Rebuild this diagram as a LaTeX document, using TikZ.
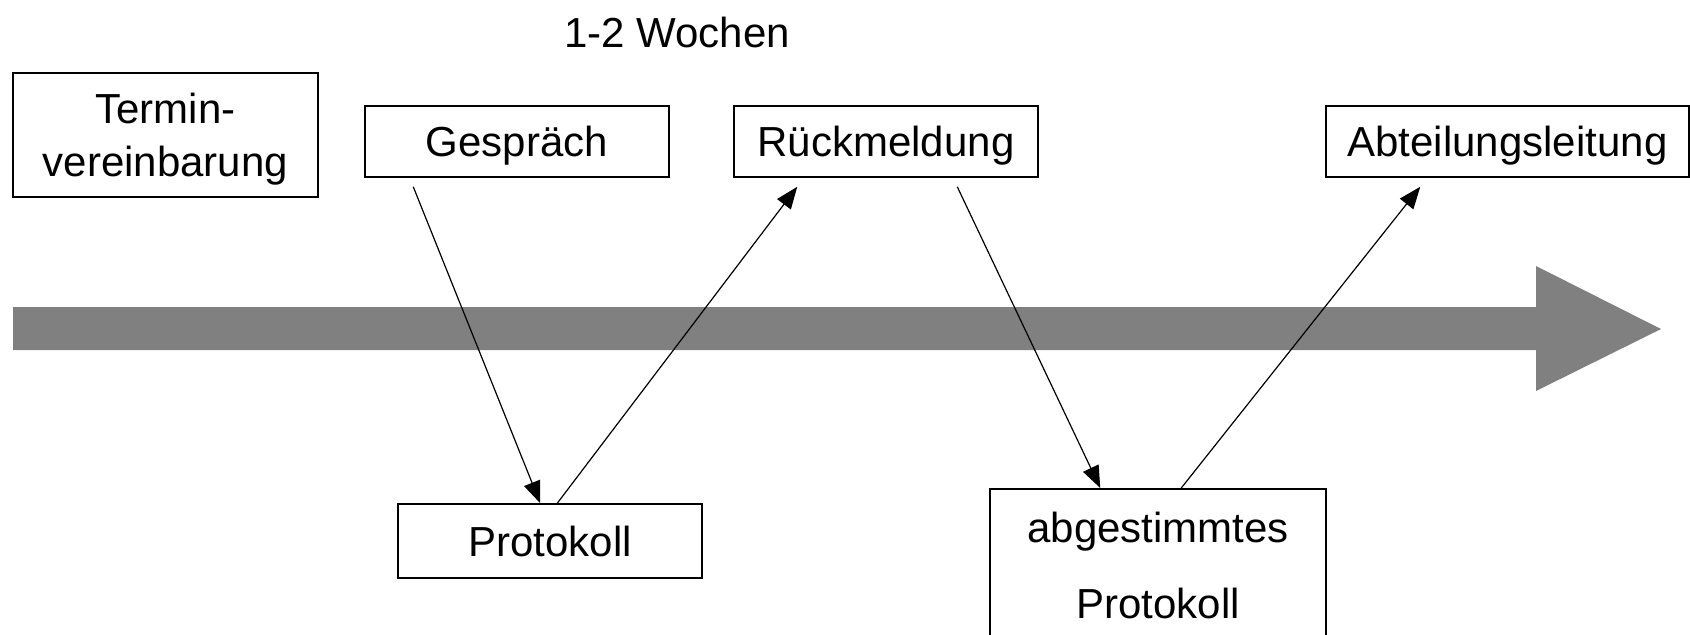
\documentclass[tikz,border=0pt]{standalone}
\usepackage{fontspec}
\setmainfont{Liberation Sans}
\usetikzlibrary{arrows.meta, calc}

\begin{document}
\begin{tikzpicture}[x=0.5pt, y=-0.5pt,
		txt/.style={inner sep=0pt, align=center, font=\fontsize{21}{25.5}\selectfont},
		box/.style={txt, draw=black, line width=0.75pt},
		link/.style={black, line width=0.6pt, -{Triangle[length=11pt,width=8.5pt]}}]
	\useasboundingbox (0,0) rectangle (1690,634);
	% timeline
	\fill[gray] (13,307) -- (1536,307) -- (1536,266) -- (1661,329)
		-- (1536,391) -- (1536,350) -- (13,350) -- cycle;
	% labels and boxes
	\node[txt] (dur) at (677,32) {1-2 Wochen};
	\node[box, text depth=0pt, minimum width=152.5pt, minimum height=62pt] (term) at (165.5,135) {Termin-\\[1pt]vereinbarung};
	\node[box, text depth=0pt, minimum width=152pt, minimum height=35.5pt] (ges) at (517,141.5) {Gespräch};
	\node[box, text depth=0pt, minimum width=152pt, minimum height=35.5pt] (rueck) at (886,141.5) {Rückmeldung};
	\node[box, text depth=0pt, minimum width=181.5pt, minimum height=35.5pt] (abt) at (1507.5,141.5) {Abteilungsleitung};
	\node[box, text depth=0pt, minimum width=152pt, minimum height=37pt] (prot) at (550,541) {Protokoll};
	\node[box, minimum width=168pt, minimum height=77pt, anchor=north] (abg) at (1158,488) {abgestimmtes\\[12.5pt]Protokoll};
	% connectors
	\draw[link] ($(ges.south west)+(49,9)$) -- ($(prot.north west)+(143,0)$);
	\draw[link] ($(prot.north west)+(160,0)$) -- ($(rueck.south west)+(64,9)$);
	\draw[link] ($(rueck.south west)+(224,9)$) -- ($(abg.north west)+(111,0)$);
	\draw[link] ($(abg.north west)+(192,0)$) -- ($(abt.south west)+(95,9)$);
\end{tikzpicture}
\end{document}
